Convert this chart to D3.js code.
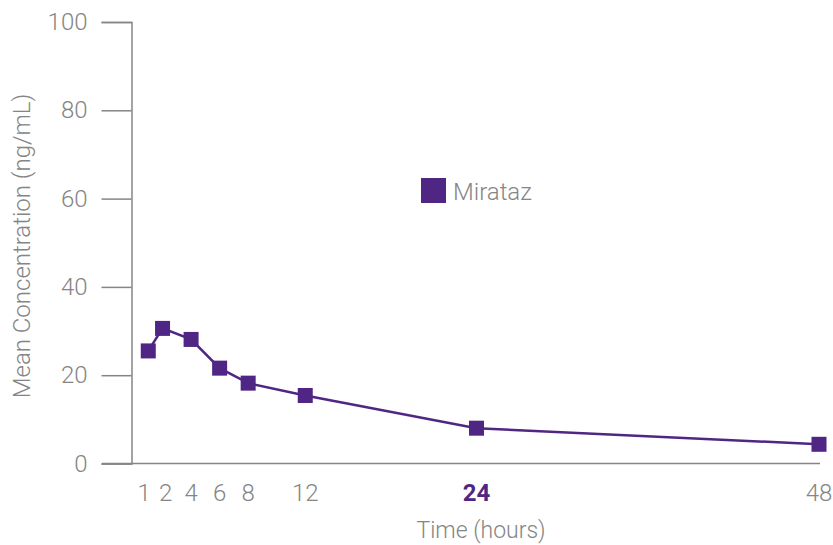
<!DOCTYPE html>
<html>
<head>
<meta charset="utf-8">
<script src="https://cdn.jsdelivr.net/npm/d3@7"></script>
<style>
  body { margin: 0; background: #fff; }
  svg { display: block; }
  text { font-family: Roboto, "Open Sans", sans-serif; font-weight: 300; }
</style>
</head>
<body>
<script>
// data
const hours = [1, 2, 4, 6, 8, 12, 24, 48];
const concentration = [25.5, 30.6, 28.1, 21.6, 18.2, 15.4, 8.0, 4.35];
const xTicks = [1, 2, 4, 6, 8, 12, 24, 48];
const yTicks = [0, 20, 40, 60, 80, 100];
const seriesName = "Mirataz";

const width = 833;
const height = 545;
const purple = "#4f2683";
const grey = "#858585";

const svg = d3.select("body")
  .append("svg")
  .attr("width", width)
  .attr("height", height);

const x = d3.scaleLinear().domain([0, 48]).range([134, 819]);
const y = d3.scaleLinear().domain([0, 100]).range([463.5, 22]);

// y axis
const yAxis = svg.append("g")
  .attr("transform", "translate(131.5,0)")
  .call(d3.axisLeft(y).tickValues(yTicks).tickSize(30).tickPadding(14));
yAxis.select(".domain").attr("stroke", grey).attr("stroke-width", 1.5);
yAxis.selectAll(".tick line").attr("stroke", grey).attr("stroke-width", 1.5);
yAxis.selectAll(".tick text")
  .attr("fill", grey)
  .style("font-size", "24px");

// x axis line (runs from the y tick start to the last point)
svg.append("line")
  .attr("x1", 102).attr("x2", 820)
  .attr("y1", y(0)).attr("y2", y(0))
  .attr("stroke", grey)
  .attr("stroke-width", 1.5);

// x tick labels; the first two are pushed apart a little so they don't touch
const labelNudge = (d) => (d === 1 ? -4 : d === 2 ? 3 : 0);
svg.append("g")
  .selectAll("text")
  .data(xTicks)
  .enter()
  .append("text")
  .attr("x", (d) => x(d) + labelNudge(d))
  .attr("y", 501)
  .attr("text-anchor", "middle")
  .style("font-size", "24px")
  .style("font-weight", (d) => (d === 24 ? 700 : 300))
  .attr("fill", (d) => (d === 24 ? purple : grey))
  .text((d) => d);

// axis titles
svg.append("text")
  .attr("x", 481)
  .attr("y", 538)
  .attr("text-anchor", "middle")
  .attr("fill", grey)
  .style("font-size", "23px")
  .text("Time (hours)");

svg.append("text")
  .attr("transform", "translate(30,246) rotate(-90)")
  .attr("text-anchor", "middle")
  .attr("fill", grey)
  .style("font-size", "24px")
  .text("Mean Concentration (ng/mL)");

// line + markers
const points = hours.map((h, i) => ({ h: h, v: concentration[i] }));

svg.append("path")
  .datum(points)
  .attr("fill", "none")
  .attr("stroke", purple)
  .attr("stroke-width", 2.5)
  .attr("d", d3.line().x((d) => x(d.h)).y((d) => y(d.v)));

const size = 15;
svg.append("g")
  .selectAll("rect")
  .data(points)
  .enter()
  .append("rect")
  .attr("x", (d) => x(d.h) - size / 2)
  .attr("y", (d) => y(d.v) - size / 2)
  .attr("width", size)
  .attr("height", size)
  .attr("fill", purple);

// legend
svg.append("rect")
  .attr("x", 421)
  .attr("y", 178)
  .attr("width", 25)
  .attr("height", 25)
  .attr("fill", purple);

svg.append("text")
  .attr("x", 453)
  .attr("y", 200)
  .attr("fill", grey)
  .style("font-size", "24px")
  .text(seriesName);
</script>
</body>
</html>
